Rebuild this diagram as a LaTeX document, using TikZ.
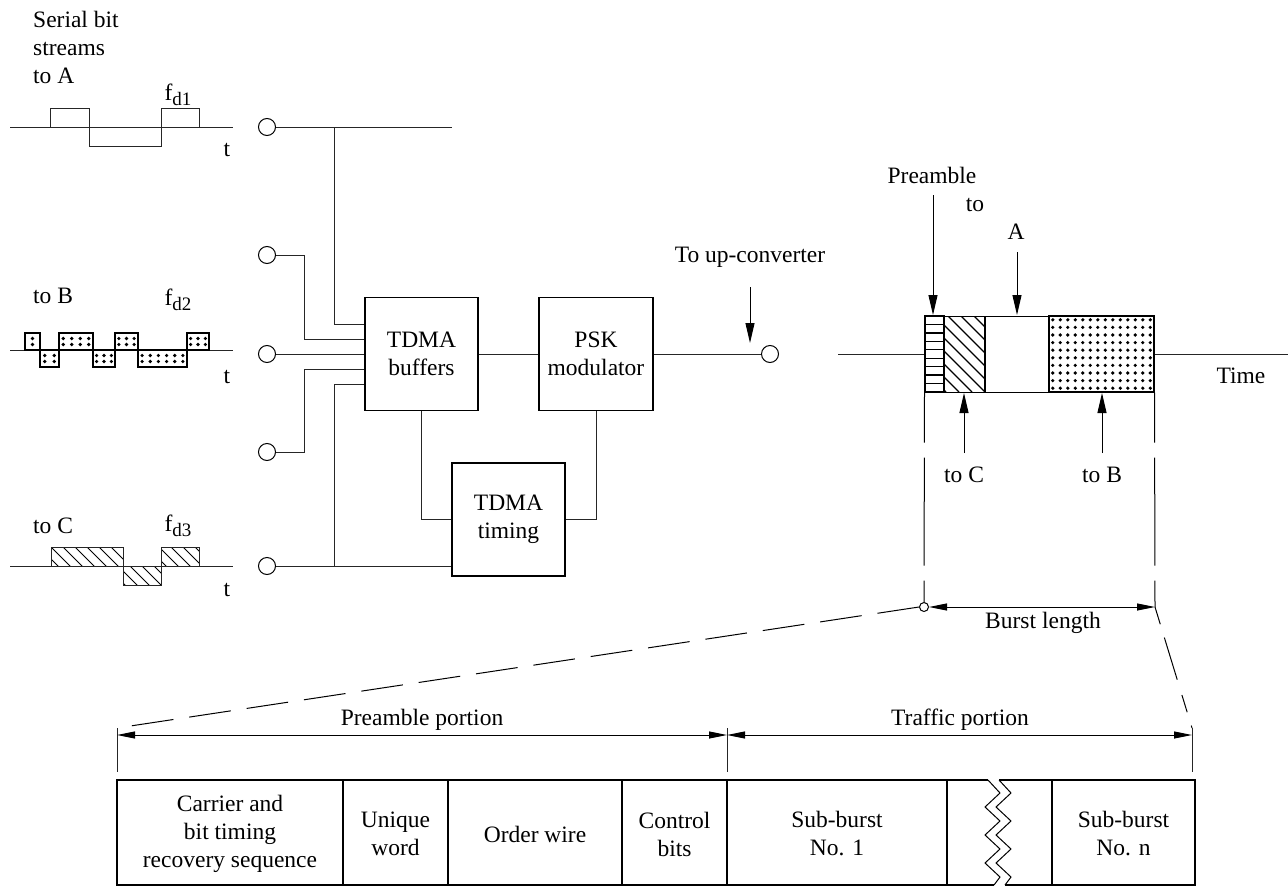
\documentclass[tikz,border=0pt]{standalone}
\usepackage{fontspec}
\setmainfont{Liberation Serif}
\usetikzlibrary{arrows.meta}
\begin{document}
\begin{tikzpicture}[x=1pt,y=-1pt,
  every node/.style={font=\fontsize{23.5}{28}\selectfont, inner sep=0pt},
  ln/.style={line width=1pt, draw=black!85},
  thk/.style={line width=1.3pt, draw=black},
  blk/.style={draw, line width=1.3pt, minimum width=113pt, minimum height=113pt, align=center},
  port/.style={circle, draw, line width=1pt, minimum size=17pt, inner sep=0pt},
  sport/.style={circle, draw, line width=1pt, minimum size=9pt, inner sep=0pt, fill=white},
  arr/.style={line width=1pt, -{Triangle[length=20pt,width=9pt]}},
  dimarr/.style={line width=1pt, {Triangle[length=18pt,width=7pt]}-{Triangle[length=18pt,width=7pt]}},
  lbl/.style={align=center},
]
\fill[white] (0,0) rectangle (1288,886);
\useasboundingbox (0,0) rectangle (1288,886);

% ---------- left labels ----------
\node[anchor=west, align=left] (ttlA) at (33,47) {Serial bit\\streams\\to A};
\node (fA) at (178,95) {f\raisebox{-5pt}{\fontsize{19}{19}\selectfont d1}};
\node (tA) at (227,150) {t};
\node[anchor=west] (ttlB) at (33,296) {to B};
\node (fB) at (178,300) {f\raisebox{-5pt}{\fontsize{19}{19}\selectfont d2}};
\node (tB) at (227,377) {t};
\node[anchor=west] (ttlC) at (33,526) {to C};
\node (fC) at (178,526) {f\raisebox{-5pt}{\fontsize{19}{19}\selectfont d3}};
\node (tC) at (227,590) {t};

% ---------- waveform A ----------
\draw[ln] (10,127) -- (233,127);
\draw[ln] (50,127) -- (50,108) -- (89,108) -- (89,146) -- (161,146) -- (161,108) -- (199,108) -- (199,127);

% ---------- waveform B ----------
\draw[ln] (10,350) -- (233,350);
\foreach \xa/\xb/\nn/\sg in {25/40/1/-1, 40/59/2/1, 59/93/4/-1, 93/115/3/1, 115/138/3/-1, 138/187/6/1, 187/209/3/-1} {
  \draw[line width=1.1pt, fill=white] (\xa,350) rectangle (\xb,{350+17*\sg});
  \foreach \i in {1,...,\nn} {
    \fill ({\xa+(\xb-\xa)*(\i-0.5)/\nn},{350+5.5*\sg}) circle (1.8pt);
    \fill ({\xa+(\xb-\xa)*(\i-0.5)/\nn},{350+11.5*\sg}) circle (1.8pt);
  }
}

% ---------- waveform C ----------
\begin{scope}
  \clip (51,547) rectangle (123,566) (123,566) rectangle (161,585) (161,547) rectangle (199,566);
  \foreach \k in {0,12,...,192} \draw[line width=0.8pt] (20+\k,540) -- ++(50,50);
\end{scope}
\draw[ln] (10,566) -- (233,566);
\draw[ln] (51,566) -- (51,547) -- (123,547) -- (123,585) -- (161,585) -- (161,547) -- (199,547) -- (199,566);

% ---------- ports ----------
\node[port] (cA)  at (267,127) {};
\node[port] (cB1) at (267,255) {};
\node[port] (cB)  at (267,354) {};
\node[port] (cB2) at (267,452) {};
\node[port] (cC)  at (267,566) {};

% ---------- blocks ----------
\node[blk] (buf) at (421.5,354) {TDMA\\buffers};
\node[blk, minimum width=114pt] (psk) at (596,354) {PSK\\modulator};
\node[blk] (tim) at (508.5,519.5) {TDMA\\timing};

\coordinate (aend) at (452,127);
\coordinate (j1) at (334,127);
\coordinate (k1) at (304,339);
\coordinate (k2) at (304,369);
\coordinate (j2) at (334,384);
\coordinate (j3) at (334,566);

\draw[ln] (cA.east) -- (aend);
\draw[ln] (j1) |- ([yshift=30pt]buf.west);
\draw[ln] (cB1.east) -| (k1) -- ([yshift=15pt]buf.west);
\draw[ln] (cB.east) -- (buf.west);
\draw[ln] (cB2.east) -| (k2) -- ([yshift=-15pt]buf.west);
\draw[ln] (j2) -- ([yshift=-30pt]buf.west);
\draw[ln] (j2) -- (j3);
\draw[ln] (cC.east) -- (cC -| tim.west);
\draw[ln] (buf.east) -- (psk.west);
\draw[ln] (buf.south) |- (tim.west);
\draw[ln] (psk.south) |- (tim.east);

% ---------- output ----------
\node[port] (cout) at (770,354) {};
\draw[ln] (psk.east) -- (cout.west);
\node (upc) at (750,257) {To up-converter};
\coordinate (u1) at (750,287);
\coordinate (u2) at (750,343);
\draw[arr] (u1) -- (u2);

% ---------- burst ----------
\node[draw, line width=1pt, minimum width=229pt, minimum height=76pt] (burst) at (1039.5,354) {};
\coordinate (tl) at (838,354);
\coordinate (tr) at (1288,354);
\draw[ln] (tl) -- (burst.west);
\draw[ln] (burst.east) -- (tr);
\foreach \j in {1,...,8} \draw[line width=1.4pt] (925,{316+76*\j/9}) -- (944,{316+76*\j/9});
\begin{scope}
  \clip (944,316) rectangle (985,392);
  \foreach \k in {0,13,...,130} \draw[line width=1.2pt] (870+\k,316) -- ++(76,76);
\end{scope}
\foreach \i in {1,...,14} \foreach \j in {1,...,10}
  \fill ({1049+105*(\i-0.5)/14},{316+76*(\j-0.5)/10}) circle (1.8pt);
\draw[thk] (944,316) -- (944,392);
\draw[thk] (985,316) -- (985,392);
\draw[thk] (1049,316) -- (1049,392);
\draw[thk] (1049,316) rectangle (1154,392);
\draw[thk] (925,316) rectangle (944,392);

\node (pre) at (932,175) {Preamble};
\node (tto) at (975,205) {to};
\node (tAA) at (1016,232) {A};
\coordinate (p1) at (933,195);
\coordinate (p2) at (933,315);
\coordinate (a1) at (1017,252);
\coordinate (a2) at (1017,315);
\draw[arr] (p1) -- (p2);
\draw[arr] (a1) -- (a2);

\node (toC) at (964,475) {to C};
\node (toB) at (1102,475) {to B};
\coordinate (c1) at (964,453);
\coordinate (c2) at (964,393);
\coordinate (b1) at (1102,453);
\coordinate (b2) at (1102,393);
\draw[arr] (c1) -- (c2);
\draw[arr] (b1) -- (b2);
\node (time) at (1241,376) {Time};

% ---------- burst length ----------
\node[sport] (sc) at (924,607) {};
\coordinate (rc) at (1155,607);
\draw[line width=1pt, dash pattern=on 50pt off 15pt on 108pt off 15pt on 40pt off 5pt] (burst.south west) -- (sc.north);
\draw[line width=1pt, dash pattern=on 50pt off 15pt on 108pt off 15pt on 40pt off 5pt] (burst.south east) -- (rc);
\draw[dimarr] (sc.east) -- (rc);
\node (bl) at (1043,623) {Burst length};

\coordinate (fl) at (117,728);
\coordinate (fr) at (1192,728);
\draw[line width=1pt, dash pattern=on 42pt off 16pt] (sc.west) -- (fl);
\draw[line width=1pt, dash pattern=on 18pt off 14pt on 44pt off 16pt] (rc) -- (fr);

% ---------- frame dimension lines ----------
\coordinate (fl2) at (117,772);
\coordinate (m1) at (727,728);
\coordinate (m2) at (727,772);
\coordinate (fr2) at (1192,772);
\draw[ln] (fl) -- (fl2);
\draw[ln] (m1) -- (m2);
\draw[ln] (fr) -- (fr2);
\coordinate (d1) at (117,735);
\coordinate (d2) at (727,735);
\coordinate (d3) at (1192,735);
\draw[dimarr] (d1) -- (d2);
\draw[dimarr] (d2) -- (d3);
\node (pp) at (422,720) {Preamble portion};
\node (tp) at (960,720) {Traffic portion};

% ---------- frame ----------
\draw[thk] (988,780) -- (117,780) -- (117,885) -- (994,885);
\draw[thk] (999,780) -- (1195,780) -- (1195,885) -- (1005,885);
\foreach \xx in {343,448,622,727,947,1052} \draw[thk] (\xx,780) -- (\xx,885);
\draw[line width=1pt] (988,780) -- (1000,793) -- (985,807) -- (1000,821) -- (985,835) -- (1000,849) -- (985,863) -- (1000,877) -- (994,885);
\draw[line width=1pt] (999,780) -- (1011,793) -- (996,807) -- (1011,821) -- (996,835) -- (1011,849) -- (996,863) -- (1011,877) -- (1005,885);

\node[lbl] (f1) at (230,834) {Carrier and\\bit timing\\recovery sequence};
\node[lbl] (f2) at (395.5,834) {Unique\\word};
\node[lbl] (f3) at (535,834) {Order wire};
\node[lbl] (f4) at (674.5,834) {Control\\bits};
\node[lbl] (f5) at (837,834) {Sub-burst\\No. 1};
\node[lbl] (f6) at (1123.5,834) {Sub-burst\\No. n};
\end{tikzpicture}
\end{document}
